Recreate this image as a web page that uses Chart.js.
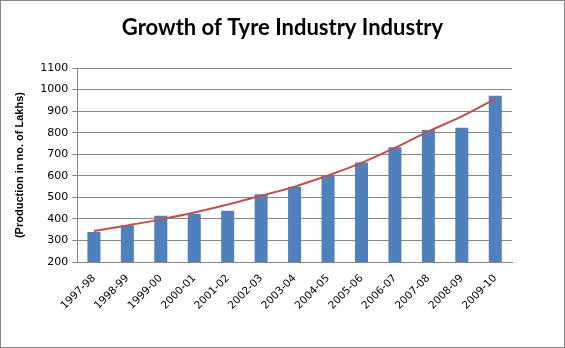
<!DOCTYPE html>
<html>
<head>
<meta charset="utf-8">
<script src="https://cdn.jsdelivr.net/npm/chart.js@4/dist/chart.umd.min.js"></script>
<style>
  html, body { margin: 0; padding: 0; background: #fff; }
  #wrap { width: 563px; height: 346px; border: 1px solid #868686; position: relative; }
</style>
</head>
<body>
<div id="wrap"><canvas id="myChart" width="563" height="346"></canvas></div>
<script>
// chart data
var years = ["1997-98", "1998-99", "1999-00", "2000-01", "2001-02", "2002-03", "2003-04",
             "2004-05", "2005-06", "2006-07", "2007-08", "2008-09", "2009-10"]
var production = [340, 371, 415, 424, 438, 515, 549, 603, 662, 733, 812, 823, 971]
var trend = [344, 370, 398, 430, 467, 508, 550, 602, 660, 730, 806, 876, 957]
var yTicks = [200, 300, 400, 500, 600, 700, 800, 900, 1000, 1100]
var chartTitle = 'Growth of Tyre Industry Industry'

// title centred on the whole canvas, like the excel one
var titlePlugin = {
    id: 'centerTitle',
    afterDraw: function(chart){
        var c = chart.ctx
        c.save()
        c.fillStyle = '#000'
        c.font = 'bold 22px Lato'
        c.textAlign = 'center'
        c.textBaseline = 'middle'
        c.fillText(chartTitle, chart.width / 2, 27)
        c.restore()
    }
}

var ctx = document.getElementById("myChart")

var myChart = new Chart(ctx, {
    type: 'bar',
    data: {
        labels: years,
        datasets: [{
            type: 'line',
            label: 'Trend',
            data: trend,
            borderColor: '#C0504D',
            borderWidth: 2,
            pointRadius: 0,
            tension: 0.4,
            fill: false
        }, {
            label: 'Production',
            data: production,
            backgroundColor: '#4F81BD',
            borderWidth: 0,
            barPercentage: 0.39,
            categoryPercentage: 1
        }]
    },
    plugins: [titlePlugin],
    options: {
        responsive: false,
        animation: false,
        layout: {
            padding: { left: 12, right: 52, top: 67, bottom: 33 }
        },
        plugins: {
            legend: { display: false },
            tooltip: { enabled: false },
            title: { display: false }
        },
        scales: {
            x: {
                grid: { display: false },
                border: { color: '#868686' },
                ticks: {
                    color: '#000',
                    font: { family: 'DejaVu Sans', size: 10.5 },
                    minRotation: 45,
                    maxRotation: 45,
                    padding: 2
                }
            },
            y: {
                min: yTicks[0],
                max: yTicks[yTicks.length - 1],
                afterBuildTicks: function(axis){
                    axis.ticks = yTicks.map(function(v){ return { value: v } })
                },
                grid: { color: '#868686', tickLength: 5 },
                border: { color: '#868686' },
                ticks: {
                    color: '#000',
                    font: { family: 'DejaVu Sans', size: 11 },
                    padding: 4,
                    callback: function(v){ return String(v) }
                },
                title: {
                    display: true,
                    text: '(Production in no. of Lakhs)',
                    color: '#000',
                    font: { family: 'Liberation Sans', size: 11, weight: 'bold' },
                    padding: { top: 0, bottom: 10 }
                }
            }
        }
    }
});
</script>
</body>
</html>
